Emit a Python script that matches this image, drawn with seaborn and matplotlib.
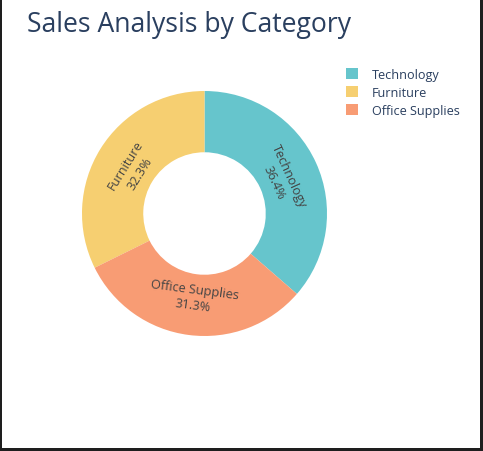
import numpy as np
import seaborn as sns
from matplotlib import pyplot as plt
from matplotlib.patches import Patch, Rectangle

categories = ["Technology", "Furniture", "Office Supplies"]
shares = [36.4, 32.3, 31.3]
colors = ["#66c5cc", "#f6cf71", "#f89c74"]

TITLE = "Sales Analysis by Category"
TEXT_COLOR = "#2a3f5f"
LABEL_COLOR = "#444444"
W, H = 483, 452

sns.set_theme(style="white")
plt.rcParams["font.family"] = ["Open Sans", "DejaVu Sans"]

fig = plt.figure(figsize=(W / 100, H / 100), dpi=100)
fig.patch.set_facecolor("white")

# donut: centre (204.5, 214.5) px, outer radius 122.5 px
ax = fig.add_axes([82 / W, (H - 337) / H, 245 / W, 245 / H])
ax.axis("off")

hole = 0.5
start = 90 - 360 * shares[0] / sum(shares)
wedges, _ = ax.pie(
    shares,
    colors=colors,
    startangle=start,
    counterclock=True,
    radius=1,
    wedgeprops={"width": 1 - hole, "linewidth": 0},
)
# pie() pads the limits, take them back to the radius
ax.set_xlim(-1, 1)
ax.set_ylim(-1, 1)
ax.set_aspect("equal")

label_r = 0.69
for w, cat, val in zip(wedges, categories, shares):
    mid = (w.theta1 + w.theta2) / 2
    rad = np.deg2rad(mid)
    rot = mid - 90
    rot = (rot + 180) % 360 - 180
    if rot > 90:
        rot -= 180
    elif rot < -90:
        rot += 180
    ax.text(
        label_r * np.cos(rad),
        label_r * np.sin(rad),
        f"{cat}\n{val:.1f}%",
        rotation=rot,
        rotation_mode="anchor",
        ha="center",
        va="center",
        multialignment="center",
        fontsize=9.2,
        color=LABEL_COLOR,
        linespacing=1.3,
    )

fig.text(27 / W, 1 - 32 / H, TITLE, fontsize=19.1, color=TEXT_COLOR, va="baseline", ha="left")

handles = [Patch(facecolor=c, edgecolor="none") for c in colors]
leg = fig.legend(
    handles,
    categories,
    loc="upper left",
    bbox_to_anchor=(342 / W, 1 - 65 / H),
    frameon=False,
    fontsize=9.1,
    handlelength=1.0,
    handleheight=1.0,
    handletextpad=1.05,
    labelspacing=0.4,
    borderaxespad=0,
    borderpad=0.3,
)
for t in leg.get_texts():
    t.set_color(TEXT_COLOR)

# dark frame around the canvas (left, right, bottom)
frame = "#1e1e1e"
fig.add_artist(Rectangle((0, 0), 2 / W, 1, transform=fig.transFigure, color=frame, lw=0))
fig.add_artist(Rectangle((1 - 3 / W, 0), 3 / W, 1, transform=fig.transFigure, color=frame, lw=0))
fig.add_artist(Rectangle((0, 0), 1, 3 / H, transform=fig.transFigure, color=frame, lw=0))

fig.savefig("out.png", dpi=100, facecolor="white")
